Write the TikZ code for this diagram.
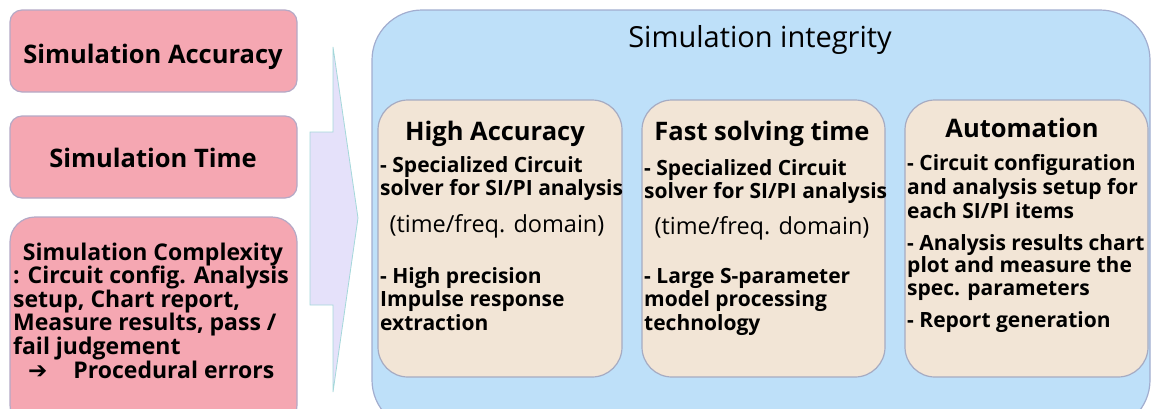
\documentclass[tikz,border=0pt]{standalone}
\usepackage{fontspec}
\setmainfont{Open Sans}
\definecolor{pinkfill}{HTML}{F5A7B2}
\definecolor{pinkline}{HTML}{B4A9C6}
\definecolor{bluefill}{HTML}{BEE0F9}
\definecolor{blueline}{HTML}{A2ADCF}
\definecolor{beigefill}{HTML}{F2E5D6}
\definecolor{beigeline}{HTML}{A6ABC2}
\definecolor{arrowfill}{HTML}{E5E1FA}
\definecolor{arrowline}{HTML}{A4D8DA}
\tikzset{
  issue/.style={draw=pinkline, line width=1.2pt, fill=pinkfill, rounded corners=12pt},
  panel/.style={draw=beigeline, line width=1.2pt, fill=beigefill, rounded corners=30pt},
  head/.style={font=\fontsize{25.5}{29}\selectfont\bfseries, inner sep=0pt, anchor=base},
  body/.style={font=\fontsize{21}{23.5}\selectfont\bfseries, inner sep=0pt, align=left, anchor=north west},
  note/.style={font=\fontsize{23.5}{27}\selectfont, inner sep=0pt, anchor=base}
}
\begin{document}
\begin{tikzpicture}[x=1pt,y=-1pt]
\useasboundingbox (0,0) rectangle (1151,408);

% problem boxes on the left
\draw[issue] (10,10) rectangle (297,92);
\node[head] (acc) at (153,63) {Simulation Accuracy};
\draw[issue] (10,116) rectangle (297,198);
\node[head] (tim) at (153,167) {Simulation Time};
\draw[issue, rounded corners=25pt] (10,217) rectangle (297,430);
\node[head, font=\fontsize{23}{27}\selectfont\bfseries] (cpx) at (153,260) {Simulation Complexity};
\node[body, font=\fontsize{23}{23.5}\selectfont\bfseries] (cpxtxt) at (13,266)
  {: Circuit config. Analysis\\setup, Chart report,\\Measure results, pass /\\fail judgement};
\node[head, anchor=base west, font=\fontsize{23}{27}\selectfont\bfseries] (err) at (28,378)
  {{\fontspec{DejaVu Sans}\bfseries ➔}\hspace{26pt}Procedural errors};

% block arrow
\draw[draw=arrowline, fill=arrowfill, line width=0.8pt]
  (310,132) -- (333,132) -- (333,47) -- (358,218) -- (333,392) -- (333,305) -- (310,305) -- cycle;

% outer container
\draw[draw=blueline, line width=1.2pt, fill=bluefill, rounded corners=50pt] (372,10) rectangle (1150,430);
\node[font=\fontsize{29}{33}\selectfont, inner sep=0pt, anchor=base] (title) at (760,47) {Simulation integrity};

% three feature panels
\draw[panel] (378,100) rectangle (622,377);
\draw[panel] (642,100) rectangle (885,377);
\draw[panel] (905,100) rectangle (1148,377);

\node[head] (ha) at (495,140) {High Accuracy};
\node[body] (ha1) at (380,156) {- Specialized Circuit\\solver for SI/PI analysis};
\node[note] (ha2) at (497,232) {(time/freq. domain)};
\node[body] (ha3) at (380,267) {- High precision\\Impulse response\\extraction};

\node[head] (fs) at (762,140) {Fast solving time};
\node[body] (fs1) at (644,159) {- Specialized Circuit\\solver for SI/PI analysis};
\node[note] (fs2) at (762,234) {(time/freq. domain)};
\node[body] (fs3) at (644,268) {- Large S-parameter\\model processing\\technology};

\node[head] (au) at (1022,137) {Automation};
\node[body, font=\fontsize{21}{24}\selectfont\bfseries] (au1) at (907,154) {- Circuit configuration\\and analysis setup for\\each SI/PI items};
\node[body, font=\fontsize{21}{22.5}\selectfont\bfseries] (au2) at (907,234) {- Analysis results chart\\plot and measure the\\spec. parameters};
\node[body] (au3) at (907,311) {- Report generation};
\end{tikzpicture}
\end{document}
